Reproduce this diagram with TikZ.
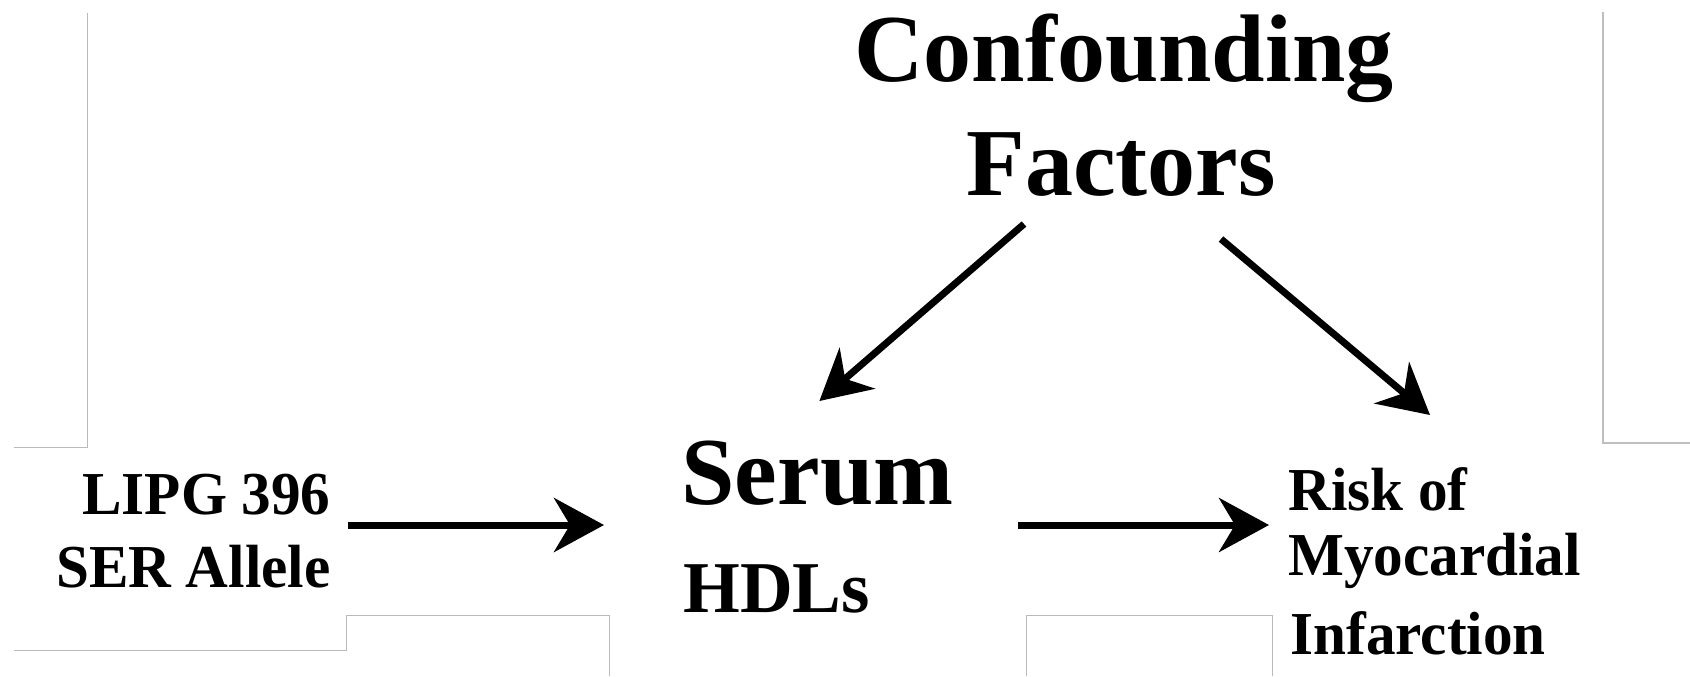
\documentclass[tikz,border=0pt]{standalone}
\usepackage{fontspec}
\setmainfont{Liberation Serif}
\newfontfamily\narrowserif{Liberation Serif}[FakeStretch=0.97]
\usetikzlibrary{arrows.meta}
\tikzset{
  txt/.style={inner sep=0pt, font=\bfseries},
  huge/.style={font=\bfseries\fontsize{48}{57}\selectfont},
  mid/.style={font=\bfseries\fontsize{36.5}{44}\selectfont},
  small/.style={font=\narrowserif\bfseries\fontsize{30.5}{36}\selectfont},
  arr/.style={line width=3.5pt, -{Stealth[length=25pt,width=27pt,inset=8pt]}},
  frame/.style={draw=black!27, line width=0.5pt},
  framethick/.style={draw=black!25, line width=1.2pt}
}
\begin{document}
\begin{tikzpicture}[x=0.5pt,y=-0.5pt]
\useasboundingbox[fill=white] (0,0) rectangle (1690,676);
% faint frame lines
\draw[frame] (87,13) -- (87,447) -- (14,447);
\draw[frame] (14,650) -- (346,650) -- (346,615) -- (609,615) -- (609,676);
\draw[frame] (1026,676) -- (1026,615) -- (1272,615) -- (1272,676);
\draw[framethick] (1603,12) -- (1603,443) -- (1690,443);
% texts
\node[txt,huge,anchor=base] (cf1) at (1124,81) {Confounding};
\node[txt,huge,anchor=base] (cf2) at (1121,195) {Factors};
\node[txt,huge,anchor=base west] (serum) at (681,504) {Serum};
\node[txt,mid,anchor=base west] (hdl) at (683,612) {HDLs};
\node[txt,small,anchor=base east] (lipg1) at (331,514) {LIPG 396};
\node[txt,small,anchor=base east] (lipg2) at (331,587) {SER Allele};
\node[txt,small,anchor=base west] (risk1) at (1288,510) {Risk of};
\node[txt,small,anchor=base west] (risk2) at (1288,575) {Myocardial};
\node[txt,small,anchor=base west] (risk3) at (1290,654) {Infarction};
% connectors
\draw[arr] ([shift={(-97,29)}]cf2.base) -- ([shift={(2,-103)}]serum.base);
\draw[arr] ([shift={(100,44)}]cf2.base) -- ([shift={(52,-95)}]risk1.base);
\draw[arr] ([shift={(17,11)}]lipg1.base east) -- ([shift={(-77,21)}]serum.base west);
\draw[arr] ([shift={(64,21)}]serum.base east) -- ([shift={(-19,15)}]risk1.base west);
\end{tikzpicture}
\end{document}
